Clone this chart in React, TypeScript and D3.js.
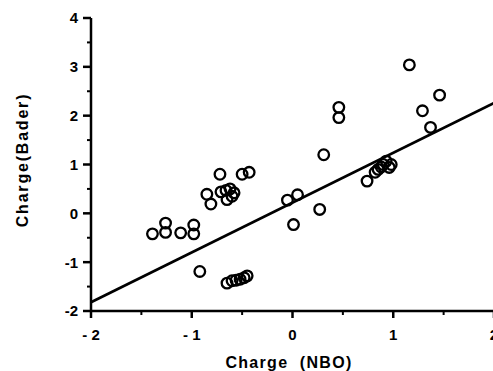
import React from "react";
import * as d3 from "d3";

const nboCharge: number[] = [
  -1.39, -1.26, -1.26, -1.11, -0.98, -0.98,
  -0.85, -0.81, -0.72, -0.71, -0.66, -0.62, -0.65, -0.6, -0.58, -0.5, -0.43,
  -0.92,
  -0.65, -0.6, -0.56, -0.52, -0.48, -0.45,
  -0.05, 0.05, 0.27, 0.01, 0.31, 0.46, 0.46,
  0.74, 0.82, 0.85, 0.88, 0.9, 0.93, 0.96, 0.98, 1.16, 1.29, 1.37, 1.46,
];
const baderCharge: number[] = [
  -0.42, -0.2, -0.39, -0.4, -0.24, -0.42,
  0.39, 0.19, 0.8, 0.44, 0.47, 0.5, 0.28, 0.35, 0.42, 0.8, 0.84,
  -1.19,
  -1.43, -1.38, -1.37, -1.35, -1.32, -1.28,
  0.27, 0.38, 0.08, -0.23, 1.2, 2.17, 1.96,
  0.66, 0.84, 0.9, 0.95, 1.0, 1.07, 0.94, 1.0, 3.04, 2.1, 1.76, 2.42,
];
const fitLineX: number[] = [-2, 2];
const fitLineY: number[] = [-1.82, 2.26];
const xTicks: number[] = [-2, -1, 0, 1, 2];
const xMinorTicks: number[] = [-1.5, -0.5, 0.5, 1.5];
const yTicks: number[] = [-2, -1, 0, 1, 2, 3, 4];
const yMinorTicks: number[] = [-1.5, -0.5, 0.5, 1.5, 2.5, 3.5];
const xTitle = "Charge  (NBO)";
const yTitle = "Charge(Bader)";

const fmtX = (v: number) => (v < 0 ? `- ${Math.abs(v)}` : `${v}`);
const fmtY = (v: number) => (v < 0 ? `-${Math.abs(v)}` : `${v}`);

export default function App() {
  const W = 493;
  const H = 371;
  const x = d3.scaleLinear().domain([-2, 2]).range([91, 494]);
  const y = d3.scaleLinear().domain([-2, 4]).range([311, 18]);
  const font = "'Liberation Sans', Arial, sans-serif";
  const line = d3
    .line<number>()
    .x((_, i) => x(fitLineX[i]))
    .y((d) => y(d));

  return (
    <svg
      width={W}
      height={H}
      style={{ position: "absolute", left: 0, top: 0, background: "#fff" }}
      fontFamily={font}
      fontWeight="bold"
    >
      {/* y axis */}
      <line x1={x(-2)} x2={x(-2)} y1={y(-2) + 1} y2={y(4)} stroke="#000" strokeWidth={2.5} />
      {yTicks.map((t) => (
        <g key={"yt" + t}>
          <line x1={x(-2) - 8} x2={x(-2)} y1={y(t)} y2={y(t)} stroke="#000" strokeWidth={2.5} />
          <text x={x(-2) - 13} y={y(t)} dy="0.36em" textAnchor="end" fontSize={15}>
            {fmtY(t)}
          </text>
        </g>
      ))}
      {yMinorTicks.map((t) => (
        <line key={"ym" + t} x1={x(-2) - 4} x2={x(-2)} y1={y(t)} y2={y(t)} stroke="#000" strokeWidth={2} />
      ))}
      {/* x axis */}
      <line x1={x(-2) - 1} x2={W} y1={y(-2)} y2={y(-2)} stroke="#000" strokeWidth={2.5} />
      {xTicks.map((t) => (
        <g key={"xt" + t}>
          <line x1={x(t)} x2={x(t)} y1={y(-2)} y2={y(-2) + 7} stroke="#000" strokeWidth={2.5} />
          <text x={x(t)} y={y(-2) + 29} textAnchor="middle" fontSize={15}>
            {fmtX(t)}
          </text>
        </g>
      ))}
      {xMinorTicks.map((t) => (
        <line key={"xm" + t} x1={x(t)} x2={x(t)} y1={y(-2)} y2={y(-2) + 4} stroke="#000" strokeWidth={2} />
      ))}
      {/* fit line */}
      <path d={line(fitLineY) || ""} fill="none" stroke="#000" strokeWidth={2.7} />
      {/* points */}
      {nboCharge.map((v, i) => (
        <circle
          key={"p" + i}
          cx={x(v)}
          cy={y(baderCharge[i])}
          r={5.3}
          fill="none"
          stroke="#000"
          strokeWidth={2.3}
        />
      ))}
      {/* titles */}
      <text x={289} y={368} textAnchor="middle" fontSize={16} letterSpacing={1.3}>
        {xTitle.replace(/ /g, "\u00a0")}
      </text>
      <text
        transform={`translate(28, 160) rotate(-90)`}
        textAnchor="middle"
        fontSize={16}
        letterSpacing={1.8}
      >
        {yTitle}
      </text>
    </svg>
  );
}
